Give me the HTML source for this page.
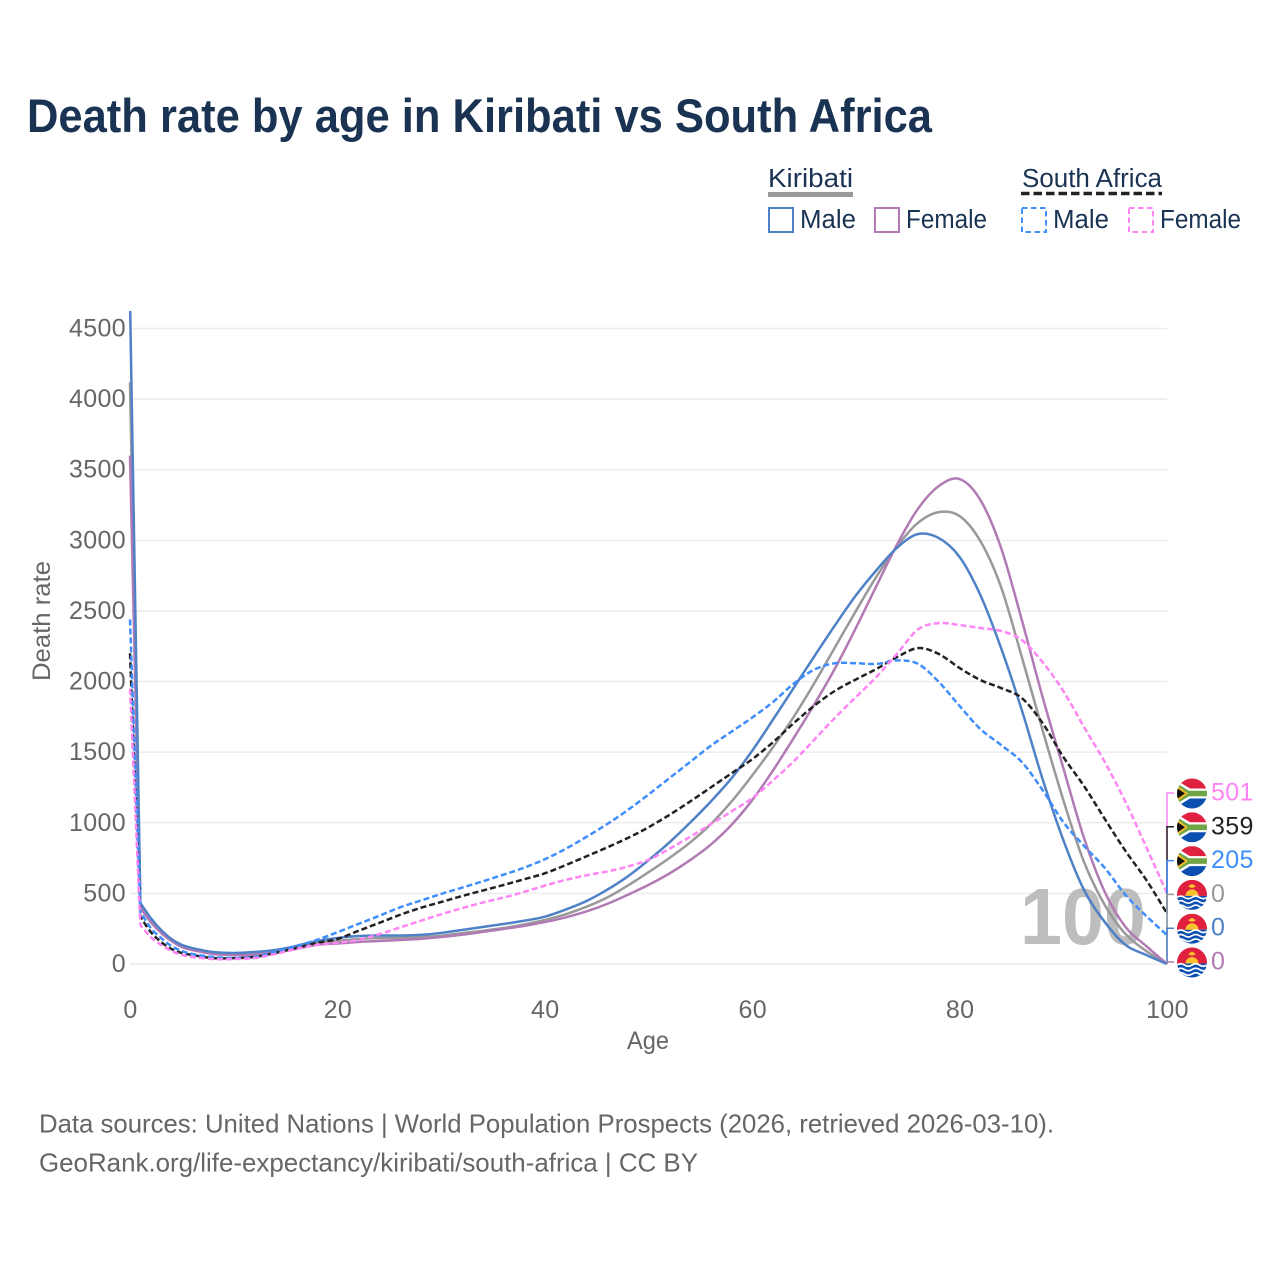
<!DOCTYPE html>
<html lang="en">
<head>
<meta charset="utf-8">
<title>Death rate by age in Kiribati vs South Africa</title>
<style>
  html, body { margin: 0; padding: 0; background: #fff; }
  svg { display: block; font-family: "Liberation Sans", "DejaVu Sans", sans-serif; }
  .tick { font-size: 25px; fill: #666; letter-spacing: .35px; }
  .legend-text { font-size: 25.5px; fill: #1a3353; }
</style>
</head>
<body>
<svg id="chart" xmlns="http://www.w3.org/2000/svg" width="1280" height="1280" viewBox="0 0 1280 1280">
  <rect width="1280" height="1280" fill="#fff"/>
  <text x="27" y="132" font-size="47" font-weight="700" fill="#1a3353" textLength="905" lengthAdjust="spacingAndGlyphs">Death rate by age in Kiribati vs South Africa</text>

  <g>
    <g>
      <text class="legend-text" x="768" y="187" textLength="85" lengthAdjust="spacingAndGlyphs">Kiribati</text>
      <line x1="768" x2="853" y1="194.500" y2="194.500" stroke="#999" stroke-width="5"/>
    </g>
    <g>
      <text class="legend-text" x="1022" y="187" textLength="140" lengthAdjust="spacingAndGlyphs">South Africa</text>
      <line x1="1021" x2="1162" y1="193.500" y2="193.500" stroke="#222" stroke-width="3.500" stroke-dasharray="8.500 4"/>
    </g>
    <g>
      <rect x="769" y="208" width="24" height="24" fill="none" stroke="#4f81c7" stroke-width="2"/>
      <text class="legend-text" x="800" y="228" textLength="56" lengthAdjust="spacingAndGlyphs">Male</text>
    </g>
    <g>
      <rect x="875" y="208" width="24" height="24" fill="none" stroke="#b27ab4" stroke-width="2"/>
      <text class="legend-text" x="906" y="228" textLength="81" lengthAdjust="spacingAndGlyphs">Female</text>
    </g>
    <g>
      <rect x="1022" y="208" width="24" height="24" fill="none" stroke="#3f8efc" stroke-width="2" stroke-dasharray="5.500 3.500"/>
      <text class="legend-text" x="1053" y="228" textLength="56" lengthAdjust="spacingAndGlyphs">Male</text>
    </g>
    <g>
      <rect x="1129" y="208" width="24" height="24" fill="none" stroke="#ff85f4" stroke-width="2" stroke-dasharray="5.500 3.500"/>
      <text class="legend-text" x="1160" y="228" textLength="81" lengthAdjust="spacingAndGlyphs">Female</text>
    </g>
  </g>

  <g id="grid"></g>
  <g id="xticks"></g>
  <g id="yticks"></g>

  <text x="648" y="1049" font-size="25" fill="#666" text-anchor="middle" textLength="42" lengthAdjust="spacingAndGlyphs">Age</text>
  <text transform="translate(50 621) rotate(-90)" font-size="25" fill="#666" text-anchor="middle" textLength="120" lengthAdjust="spacingAndGlyphs">Death rate</text>

  <text x="1020" y="944" font-size="80" font-weight="700" fill="#bdbdbd" textLength="126" lengthAdjust="spacingAndGlyphs">100</text>

  <clipPath id="plot-clip"><rect x="100" y="311" width="1100" height="680"/></clipPath>
  <g id="series" clip-path="url(#plot-clip)"></g>
  <g id="connectors"></g>
  <g id="endlabels"></g>

  <text x="39" y="1132.500" font-size="26" fill="#666" textLength="1015" lengthAdjust="spacingAndGlyphs">Data sources: United Nations | World Population Prospects (2026, retrieved 2026-03-10).</text>
  <text x="39" y="1171.500" font-size="26" fill="#666" textLength="659" lengthAdjust="spacingAndGlyphs">GeoRank.org/life-expectancy/kiribati/south-africa | CC BY</text>
</svg>

<script>
const ages = [0,1,2,3,4,5,6,8,10,12,14,16,18,20,22,24,26,28,30,32,34,36,38,40,42,44,46,48,50,52,54,56,58,60,62,64,66,68,70,72,74,76,78,80,82,84,86,88,90,92,94,96,98,100];
const kiribatiTotal = [4120,411,312,234,170,127,106,78,71,78,92,120,149,163,177,184,186,191,200,218,235,255,280,312,352,405,470,555,650,750,860,990,1150,1335,1535,1750,1990,2245,2500,2745,2960,3125,3200,3172,2995,2669,2174,1657,1161,722,418,212,92,0];
const kiribatiFemale = [3600,397,297,220,163,120,99,71,64,64,85,106,135,145,156,163,170,178,191,207,227,248,270,297,330,372,425,490,560,640,735,845,985,1160,1370,1600,1840,2095,2380,2680,2975,3225,3385,3434,3286,2946,2436,1891,1388,892,510,262,127,0];
const kiribatiMale = [4700,432,326,241,177,135,113,85,78,85,99,127,163,184,198,202,202,206,220,241,262,283,306,335,385,445,525,620,735,860,1000,1150,1315,1510,1730,1955,2180,2400,2610,2790,2950,3045,3016,2882,2613,2237,1798,1310,878,524,297,135,64,0];
const southAfricaTotal = [2200,333,227,156,106,78,64,42,42,50,78,113,149,177,234,290,347,397,439,481,520,559,600,642,700,762,825,892,968,1055,1150,1250,1350,1450,1570,1705,1830,1935,2015,2090,2175,2237,2195,2096,2011,1954,1883,1706,1466,1260,1027,800,595,359];
const southAfricaMale = [2440,368,255,184,127,92,71,50,42,50,85,127,170,225,283,340,400,448,496,540,585,632,682,742,815,900,990,1090,1200,1315,1430,1545,1645,1745,1855,1985,2085,2130,2130,2125,2150,2125,1997,1827,1664,1551,1430,1232,1005,836,680,489,340,205];
const southAfricaFemale = [1950,276,191,135,92,64,50,35,35,42,71,106,135,150,170,210,258,305,352,395,435,470,510,555,595,628,655,690,738,815,900,990,1080,1175,1300,1435,1590,1745,1890,2035,2200,2370,2414,2400,2379,2358,2294,2138,1933,1678,1430,1147,828,501];
const yTickValues = [0,500,1000,1500,2000,2500,3000,3500,4000,4500];
const xTickValues = [0,20,40,60,80,100];

const NS = 'http://www.w3.org/2000/svg';
const xScale = a => 130 + a * 10.37;
const yScale = v => 964 - v * 0.14122;

function make(tag, attrs, parent, text) {
  const el = document.createElementNS(NS, tag);
  for (const k in attrs) el.setAttribute(k, attrs[k]);
  if (text !== undefined) el.textContent = text;
  parent.appendChild(el);
  return el;
}

const gridLayer = document.getElementById('grid');
const yTickLayer = document.getElementById('yticks');
yTickValues.forEach(v => {
  const gl = make('line', {x1: 130, x2: 1167, y1: yScale(v), y2: yScale(v), stroke: '#ececec', 'stroke-width': 1.5}, gridLayer);
  
  
  const t = make('text', {class: 'tick', x: 126, y: yScale(v) + 8, 'text-anchor': 'end'}, yTickLayer, String(v));
  
  
});

const xTickLayer = document.getElementById('xticks');
xTickValues.forEach(v => {
  const t = make('text', {class: 'tick', x: xScale(v) + 0.5, y: 1018, 'text-anchor': 'middle'}, xTickLayer, String(v));
  
  
});

function linePath(values) {
  const pts = values.map((v, i) => [xScale(ages[i]), yScale(v)]);
  let d = 'M' + pts[0][0] + ' ' + pts[0][1] + 'L' + pts[1][0] + ' ' + pts[1][1];
  for (let i = 1; i < pts.length - 1; i++) {
    const p0 = pts[Math.max(i - 1, 1)], p1 = pts[i], p2 = pts[i + 1], p3 = pts[Math.min(i + 2, pts.length - 1)];
    const c1x = p1[0] + (p2[0] - p0[0]) / 6, c1y = p1[1] + (p2[1] - p0[1]) / 6;
    const c2x = p2[0] - (p3[0] - p1[0]) / 6, c2y = p2[1] - (p3[1] - p1[1]) / 6;
    d += 'C' + c1x.toFixed(2) + ' ' + c1y.toFixed(2) + ' ' + c2x.toFixed(2) + ' ' + c2y.toFixed(2) + ' ' + p2[0].toFixed(2) + ' ' + p2[1].toFixed(2);
  }
  return d;
}

const seriesLayer = document.getElementById('series');
function drawSeries(name, values, color, dash) {
  const p = make('path', {d: linePath(values), fill: 'none', stroke: color, 'stroke-width': 2.5, 'stroke-linejoin': 'round'}, seriesLayer);
  if (dash) p.setAttribute('stroke-dasharray', '6 3');
  
  
}
drawSeries('kiribati-total', kiribatiTotal, '#999999', false);
drawSeries('kiribati-female', kiribatiFemale, '#b27ab4', false);
drawSeries('kiribati-male', kiribatiMale, '#4f81c7', false);
drawSeries('south-africa-total', southAfricaTotal, '#222222', true);
drawSeries('south-africa-male', southAfricaMale, '#3f8efc', true);
drawSeries('south-africa-female', southAfricaFemale, '#ff85f4', true);

function flagSouthAfrica(g) {
  make('rect', {x: -15, y: -15, width: 30, height: 15, fill: '#e0203f'}, g);
  make('rect', {x: -15, y: 0, width: 30, height: 15, fill: '#0b4fb0'}, g);
  make('path', {d: 'M-15 -13 L-2 -5 H15 V5 H-2 L-15 13 Z', fill: '#fff'}, g);
  make('path', {d: 'M-15 -10 L-3 -2.800 H15 V2.800 H-3 L-15 10 Z', fill: '#6fa544'}, g);
  make('path', {d: 'M-15 -8 L-4 0 L-15 8 Z', fill: '#f5c02c'}, g);
  make('path', {d: 'M-15 -5.500 L-7 0 L-15 5.500 Z', fill: '#111'}, g);
}
function flagKiribati(g) {
  make('rect', {x: -15, y: -15, width: 30, height: 16, fill: '#e0203f'}, g);
  make('rect', {x: -15, y: 1, width: 30, height: 14, fill: '#0b4fb0'}, g);
  make('path', {d: 'M-6.500 1 A6.500 6.500 0 0 1 6.500 1 Z', fill: '#fbc02d'}, g);
  make('path', {d: 'M-4 -8.500 L0 -11 L4 -8.500 L1 -7 H-1 Z', fill: '#fbc02d'}, g);
  ['M-15 2.500 q3.750 -2.500 7.500 0 t7.500 0 t7.500 0 t7.500 0',
   'M-15 7 q3.750 -2.500 7.500 0 t7.500 0 t7.500 0 t7.500 0',
   'M-15 11.500 q3.750 -2.500 7.500 0 t7.500 0 t7.500 0 t7.500 0'].forEach(w => {
    make('path', {d: w, fill: 'none', stroke: '#fff', 'stroke-width': 1.7}, g);
  });
}

const connectorLayer = document.getElementById('connectors');
const endLabelLayer = document.getElementById('endlabels');
const lastX = xScale(ages[ages.length - 1]);
const SLOT_TOP = 793, SLOT_STEP = 33.8;
function endLabel(slot, name, values, color, flag) {
  const slotY = SLOT_TOP + slot * SLOT_STEP;
  const last = values[values.length - 1];
  const c = make('path', {d: 'M1174 ' + slotY + 'H' + lastX + 'V' + yScale(last), fill: 'none', stroke: color, 'stroke-width': 1.5}, connectorLayer);
  
  
  const clipId = 'flag-clip-' + name;
  const cp = make('clipPath', {id: clipId}, endLabelLayer);
  make('circle', {cx: 0, cy: 0, r: 15}, cp);
  const g = make('g', {transform: 'translate(1192 ' + (slotY + 0.5) + ')', 'clip-path': 'url(#' + clipId + ')'}, endLabelLayer);
  
  
  flag(g);
  const t = make('text', {x: 1211, y: slotY + 7.5, 'font-size': 25, fill: color, 'letter-spacing': '.35'}, endLabelLayer, String(last));
  
  
}
endLabel(0, 'south-africa-female', southAfricaFemale, '#ff85f4', flagSouthAfrica);
endLabel(1, 'south-africa-total', southAfricaTotal, '#222222', flagSouthAfrica);
endLabel(2, 'south-africa-male', southAfricaMale, '#3f8efc', flagSouthAfrica);
endLabel(3, 'kiribati-total', kiribatiTotal, '#999999', flagKiribati);
endLabel(4, 'kiribati-male', kiribatiMale, '#4f81c7', flagKiribati);
endLabel(5, 'kiribati-female', kiribatiFemale, '#b27ab4', flagKiribati);
</script>
</body>
</html>
